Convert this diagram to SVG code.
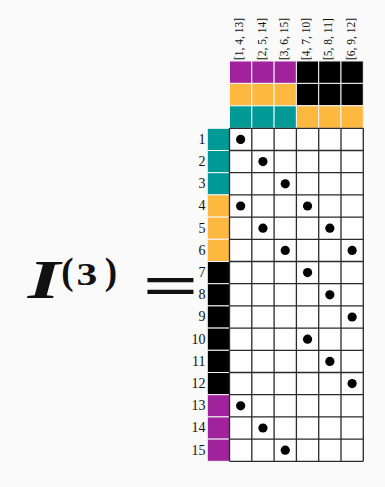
<svg xmlns="http://www.w3.org/2000/svg" width="385" height="487" viewBox="0 0 385 487">
<style>
.lbl{font-family:"Liberation Serif","DejaVu Serif",serif;fill:#111}
.col{font-size:11.5px}
.row{font-size:14px;text-anchor:end}
.cell{stroke:#f4f4f4;stroke-width:1}
.grid{stroke:#2a2a2a;stroke-width:1.3;fill:none}
.dot{fill:#000}
.p{fill:#a0229c}.o{fill:#fcb83f}.t{fill:#009a96}.k{fill:#000}
</style>
<rect width="385" height="487" fill="#fafafa"/>
<g id="formula" class="lbl">
  <text transform="translate(27.7,298) scale(1.55,1)" font-size="54" font-weight="bold" font-style="italic">I</text>
  <text x="67.5" y="284" font-size="37" font-weight="bold" text-anchor="middle">(</text>
  <text transform="translate(87,285) scale(1.3,1)" font-size="32" font-weight="bold" text-anchor="middle">3</text>
  <text x="111" y="284" font-size="37" font-weight="bold" text-anchor="middle">)</text>
  <text transform="translate(142.6,305.2) scale(1.0,0.6)" font-size="99" font-weight="bold">=</text>
</g>
<g id="column-labels" class="lbl col">
  <text transform="translate(243.2,60) rotate(-90)">[1, 4, 13]</text>
  <text transform="translate(265.5,60) rotate(-90)">[2, 5, 14]</text>
  <text transform="translate(287.8,60) rotate(-90)">[3, 6, 15]</text>
  <text transform="translate(310.1,60) rotate(-90)">[4, 7, 10]</text>
  <text transform="translate(332.4,60) rotate(-90)">[5, 8, 11]</text>
  <text transform="translate(354.7,60) rotate(-90)">[6, 9, 12]</text>
</g>
<g id="column-colors" class="cell">
  <rect class="p" x="229.5" y="61" width="22.3" height="22.4"/>
  <rect class="p" x="251.8" y="61" width="22.3" height="22.4"/>
  <rect class="p" x="274.1" y="61" width="22.3" height="22.4"/>
  <rect class="k" x="296.4" y="61" width="22.3" height="22.4"/>
  <rect class="k" x="318.7" y="61" width="22.3" height="22.4"/>
  <rect class="k" x="341.0" y="61" width="22.3" height="22.4"/>
  <rect class="o" x="229.5" y="83.4" width="22.3" height="22.4"/>
  <rect class="o" x="251.8" y="83.4" width="22.3" height="22.4"/>
  <rect class="o" x="274.1" y="83.4" width="22.3" height="22.4"/>
  <rect class="k" x="296.4" y="83.4" width="22.3" height="22.4"/>
  <rect class="k" x="318.7" y="83.4" width="22.3" height="22.4"/>
  <rect class="k" x="341.0" y="83.4" width="22.3" height="22.4"/>
  <rect class="t" x="229.5" y="105.8" width="22.3" height="22.5"/>
  <rect class="t" x="251.8" y="105.8" width="22.3" height="22.5"/>
  <rect class="t" x="274.1" y="105.8" width="22.3" height="22.5"/>
  <rect class="o" x="296.4" y="105.8" width="22.3" height="22.5"/>
  <rect class="o" x="318.7" y="105.8" width="22.3" height="22.5"/>
  <rect class="o" x="341.0" y="105.8" width="22.3" height="22.5"/>
</g>
<g id="row-labels" class="lbl row">
  <text x="205.6" y="143.8">1</text>
  <text x="205.6" y="166.0">2</text>
  <text x="205.6" y="188.2">3</text>
  <text x="205.6" y="210.4">4</text>
  <text x="205.6" y="232.6">5</text>
  <text x="205.6" y="254.8">6</text>
  <text x="205.6" y="277.0">7</text>
  <text x="205.6" y="299.2">8</text>
  <text x="205.6" y="321.4">9</text>
  <text x="205.6" y="343.6">10</text>
  <text x="205.6" y="365.8">11</text>
  <text x="205.6" y="388.0">12</text>
  <text x="205.6" y="410.2">13</text>
  <text x="205.6" y="432.4">14</text>
  <text x="205.6" y="454.6">15</text>
</g>
<g id="row-colors" class="cell">
  <rect class="t" x="207.3" y="128.3" width="22.2" height="22.2"/>
  <rect class="t" x="207.3" y="150.5" width="22.2" height="22.2"/>
  <rect class="t" x="207.3" y="172.7" width="22.2" height="22.2"/>
  <rect class="o" x="207.3" y="194.9" width="22.2" height="22.2"/>
  <rect class="o" x="207.3" y="217.1" width="22.2" height="22.2"/>
  <rect class="o" x="207.3" y="239.3" width="22.2" height="22.2"/>
  <rect class="k" x="207.3" y="261.5" width="22.2" height="22.2"/>
  <rect class="k" x="207.3" y="283.7" width="22.2" height="22.2"/>
  <rect class="k" x="207.3" y="305.9" width="22.2" height="22.2"/>
  <rect class="k" x="207.3" y="328.1" width="22.2" height="22.2"/>
  <rect class="k" x="207.3" y="350.3" width="22.2" height="22.2"/>
  <rect class="k" x="207.3" y="372.5" width="22.2" height="22.2"/>
  <rect class="p" x="207.3" y="394.7" width="22.2" height="22.2"/>
  <rect class="p" x="207.3" y="416.9" width="22.2" height="22.2"/>
  <rect class="p" x="207.3" y="439.1" width="22.2" height="22.2"/>
</g>
<g id="matrix">
  <rect x="229.5" y="128.3" width="133.8" height="333" fill="#fefefe"/>
  <path class="grid" d="M229.5 128.3V461.3M251.8 128.3V461.3M274.1 128.3V461.3M296.4 128.3V461.3M318.7 128.3V461.3M341 128.3V461.3M363.3 128.3V461.3M229.5 128.3H363.3M229.5 150.5H363.3M229.5 172.7H363.3M229.5 194.9H363.3M229.5 217.1H363.3M229.5 239.3H363.3M229.5 261.5H363.3M229.5 283.7H363.3M229.5 305.9H363.3M229.5 328.1H363.3M229.5 350.3H363.3M229.5 372.5H363.3M229.5 394.7H363.3M229.5 416.9H363.3M229.5 439.1H363.3M229.5 461.3H363.3"/>
</g>
<g id="dots" class="dot">
  <circle cx="240.65" cy="139.4" r="4.6"/>
  <circle cx="262.95" cy="161.6" r="4.6"/>
  <circle cx="285.25" cy="183.8" r="4.6"/>
  <circle cx="240.65" cy="206.0" r="4.6"/>
  <circle cx="307.55" cy="206.0" r="4.6"/>
  <circle cx="262.95" cy="228.2" r="4.6"/>
  <circle cx="329.85" cy="228.2" r="4.6"/>
  <circle cx="285.25" cy="250.4" r="4.6"/>
  <circle cx="352.15" cy="250.4" r="4.6"/>
  <circle cx="307.55" cy="272.6" r="4.6"/>
  <circle cx="329.85" cy="294.8" r="4.6"/>
  <circle cx="352.15" cy="317.0" r="4.6"/>
  <circle cx="307.55" cy="339.2" r="4.6"/>
  <circle cx="329.85" cy="361.4" r="4.6"/>
  <circle cx="352.15" cy="383.6" r="4.6"/>
  <circle cx="240.65" cy="405.8" r="4.6"/>
  <circle cx="262.95" cy="428.0" r="4.6"/>
  <circle cx="285.25" cy="450.2" r="4.6"/>
</g>
</svg>
